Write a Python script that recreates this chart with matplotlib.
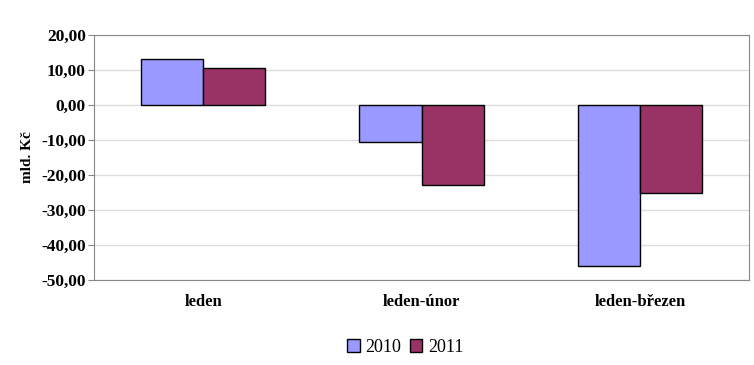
import matplotlib.pyplot as plt
import numpy as np
from matplotlib.ticker import FuncFormatter

categories = ['leden', 'leden-únor', 'leden-březen']
values_2010 = [13.2, -10.5, -45.9]
values_2011 = [10.5, -23.0, -25.3]

plt.rcParams['font.family'] = ['Liberation Serif', 'DejaVu Serif']

fig = plt.figure(figsize=(7.54, 3.65), dpi=100)
ax = fig.add_axes([0.1247, 0.2329, 0.8687, 0.6721])

x = np.arange(len(categories))
w = 0.285
ax.bar(x - w / 2, values_2010, w, color='#9999FF', edgecolor='black', linewidth=1, label='2010', zorder=3)
ax.bar(x + w / 2, values_2011, w, color='#993366', edgecolor='black', linewidth=1, label='2011', zorder=3)

ax.set_xlim(-0.5, len(categories) - 0.5)
ax.set_ylim(-50, 20)
ax.set_yticks(np.arange(-50, 21, 10))
ax.yaxis.set_major_formatter(FuncFormatter(lambda v, p: f'{v:.2f}'.replace('.', ',')))
ax.grid(axis='y', color='#dddddd', linewidth=1, zorder=0)

ax.set_xticks(x)
ax.set_xticklabels(categories, fontweight='bold', fontsize=12)
for lab in ax.get_yticklabels():
    lab.set_fontweight('bold')
    lab.set_fontsize(12.5)
ax.tick_params(axis='x', length=0, pad=10)
ax.tick_params(axis='y', length=4, color='#888888', pad=2)
for s in ax.spines.values():
    s.set_color('#888888')
ax.set_ylabel('mld. Kč', fontweight='bold', fontsize=11, labelpad=5)

ax.legend(loc='center', bbox_to_anchor=(0.475, -0.275), ncol=2, frameon=False,
          fontsize=13, handlelength=0.7, handleheight=0.7, handletextpad=0.3,
          columnspacing=0.5)

fig.savefig('out.png', dpi=100)
